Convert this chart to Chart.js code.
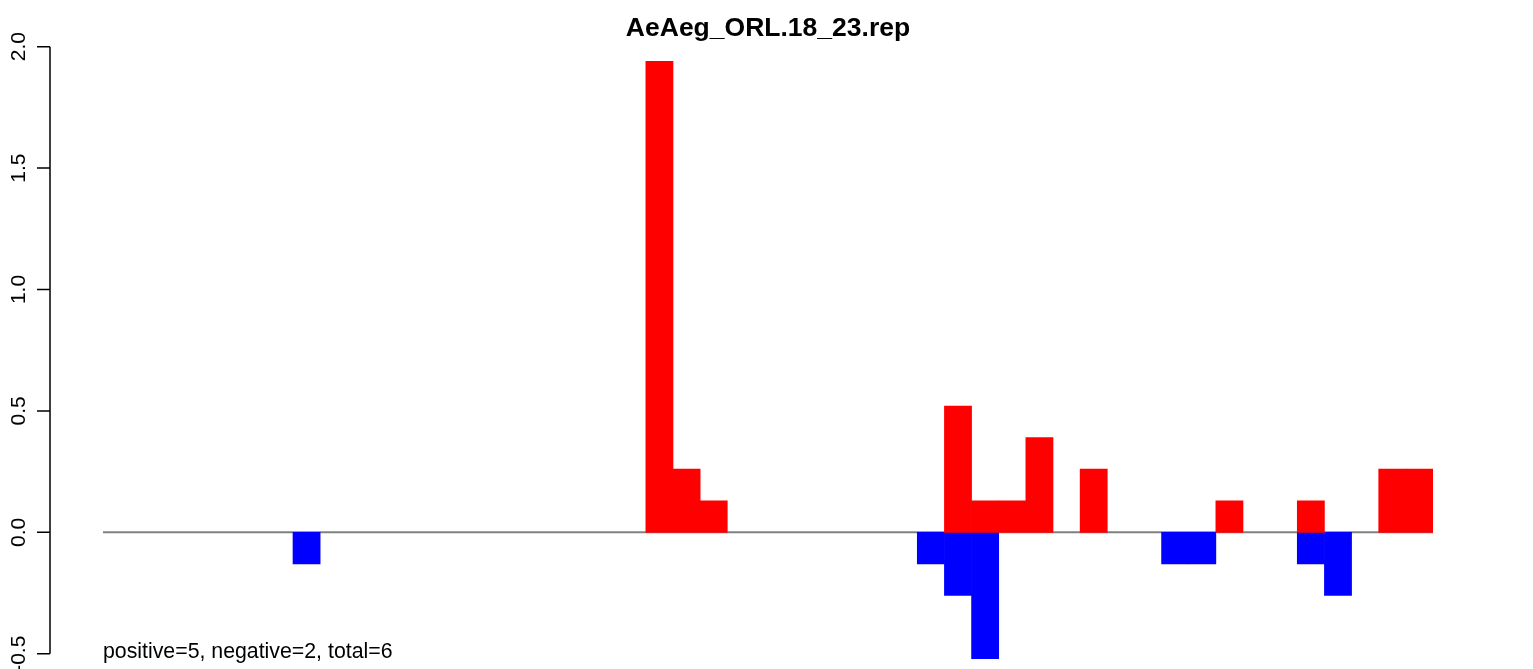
<!DOCTYPE html>
<html>
<head>
<meta charset="utf-8">
<script src="https://cdn.jsdelivr.net/npm/chart.js@4"></script>
<style>
  html, body { margin: 0; padding: 0; background: #fff; }
  #wrap { width: 1533px; height: 669px; position: relative; }
</style>
</head>
<body>
<div id="wrap"><canvas id="repChart"></canvas></div>
<script>
// 49 bins along the sequence
var bins = [];
for (var i = 1; i <= 49; i++) bins.push(String(i));

var positive = [0, 0, 0, 0, 0, 0, 0, 0, 0, 0,
                0, 0, 0, 0, 0, 0, 0, 0, 0, 0,
                1.94, 0.26, 0.13, 0, 0, 0, 0, 0, 0, 0,
                0, 0.52, 0.13, 0.13, 0.39, 0, 0.26, 0, 0, 0,
                0, 0.13, 0, 0, 0.13, 0, 0, 0.26, 0.26];

var negative = [0, 0, 0, 0, 0, 0, 0, -0.13, 0, 0,
                0, 0, 0, 0, 0, 0, 0, 0, 0, 0,
                0, 0, 0, 0, 0, 0, 0, 0, 0, 0,
                -0.13, -0.26, -0.52, 0, 0, 0, 0, 0, 0, -0.13,
                -0.13, 0, 0, 0, -0.13, -0.26, 0, 0, 0];

var tickValues = [-0.5, 0, 0.5, 1, 1.5, 2];
var tickLabels = ["-0.5", "0.0", "0.5", "1.0", "1.5", "2.0"];

var chartTitle = "AeAeg_ORL.18_23.rep";
var footNote = "positive=5, negative=2, total=6";

var FONT = '"Liberation Sans", Arial, sans-serif';

// empty bins -> null so no hairline bar is drawn on the zero line
function skipZero(arr) {
    return arr.map(function(v) { return v === 0 ? null : v; });
}

var rDecor = {
    id: 'rDecor',
    beforeDatasetsDraw: function(chart) {
        var ctx = chart.ctx, y = chart.scales.y, area = chart.chartArea;
        var y0 = y.getPixelForValue(0);
        ctx.save();
        ctx.strokeStyle = '#808080';
        ctx.lineWidth = 2;
        ctx.beginPath();
        ctx.moveTo(area.left, y0);
        ctx.lineTo(area.right, y0);
        ctx.stroke();
        ctx.restore();
    },
    afterDraw: function(chart) {
        var ctx = chart.ctx, y = chart.scales.y, area = chart.chartArea;
        var axisX = 50;
        var top = y.getPixelForValue(tickValues[tickValues.length - 1]);
        var bottom = y.getPixelForValue(tickValues[0]);
        ctx.save();
        ctx.strokeStyle = '#000';
        ctx.lineWidth = 1.5;
        ctx.beginPath();
        ctx.moveTo(axisX, top);
        ctx.lineTo(axisX, bottom);
        tickValues.forEach(function(v) {
            var py = y.getPixelForValue(v);
            ctx.moveTo(axisX, py);
            ctx.lineTo(axisX - 13, py);
        });
        ctx.stroke();

        ctx.fillStyle = '#000';
        ctx.font = '21px ' + FONT;
        ctx.textAlign = 'center';
        ctx.textBaseline = 'alphabetic';
        tickValues.forEach(function(v, i) {
            var py = y.getPixelForValue(v);
            ctx.save();
            ctx.translate(25, py);
            ctx.rotate(-Math.PI / 2);
            ctx.fillText(tickLabels[i], 0, 0);
            ctx.restore();
        });

        ctx.font = 'bold 26.5px ' + FONT;
        ctx.fillText(chartTitle, (area.left + area.right) / 2, 36);

        ctx.font = '21.3px ' + FONT;
        ctx.textAlign = 'left';
        ctx.fillText(footNote, area.left, 658);
        ctx.restore();
    }
};

var ctx = document.getElementById("repChart");

var repChart = new Chart(ctx, {
    type: 'bar',
    data: {
        labels: bins,
        datasets: [
            {
                label: "positive",
                backgroundColor: "#ff0000",
                borderWidth: 0,
                barPercentage: 1,
                categoryPercentage: 1,
                data: skipZero(positive)
            },
            {
                label: "negative",
                backgroundColor: "#0000ff",
                borderWidth: 0,
                barPercentage: 1,
                categoryPercentage: 1,
                data: skipZero(negative)
            }
        ]
    },
    options: {
        responsive: true,
        maintainAspectRatio: false,
        animation: false,
        layout: {
            padding: { left: 103, right: 100, top: 34.7, bottom: 3.3 }
        },
        plugins: {
            legend: { display: false },
            title: { display: false },
            tooltip: { enabled: false }
        },
        scales: {
            x: { display: false, stacked: true },
            y: { display: false, stacked: true, min: -0.5494, max: 2.0494 }
        }
    },
    plugins: [rDecor]
});
</script>
</body>
</html>
